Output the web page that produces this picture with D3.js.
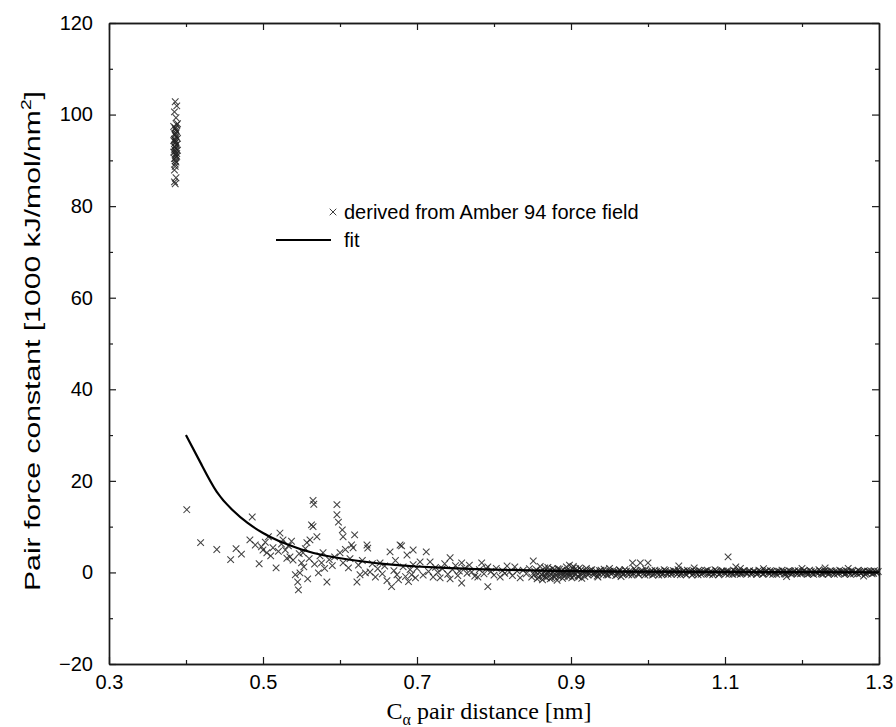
<!DOCTYPE html>
<html>
<head>
<meta charset="utf-8">
<script src="https://cdn.jsdelivr.net/npm/d3@7/dist/d3.min.js"></script>
<style>
html,body{margin:0;padding:0;background:#fff;}
svg{display:block;}
</style>
</head>
<body>
<svg id="chart" width="896" height="727"></svg>
<script>
// ---------- data ----------
const xTicks = [0.3, 0.5, 0.7, 0.9, 1.1, 1.3];
const xMinorTicks = [0.4, 0.6, 0.8, 1.0, 1.2];
const yTicks = [-20, 0, 20, 40, 60, 80, 100, 120];
const yMinorTicks = [-10, 10, 30, 50, 70, 90, 110];

const xLabelMain = "C";
const xLabelSub = "\u03b1";
const xLabelRest = " pair distance [nm]";
const yLabelMain = "Pair force constant [1000 kJ/mol/nm";
const yLabelSup = "2";
const legendScatter = "derived from Amber 94 force field";
const legendFit = "fit";

// fitted curve, values
const fitX = [0.40, 0.42, 0.44, 0.46, 0.48, 0.50, 0.52, 0.55, 0.58, 0.62, 0.66, 0.70, 0.75, 0.80, 0.90, 1.00, 1.10, 1.20, 1.30];
const fitY = [30.0, 23.6, 17.6, 13.7, 10.8, 8.6, 6.9, 5.0, 3.7, 2.6, 1.8, 1.3, 0.9, 0.6, 0.3, 0.18, 0.1, 0.06, 0.04];

// bonded neighbour cluster near 0.385 nm
const clusterPoints = [
[0.386,102.8],[0.388,101.9],[0.385,100.6],[0.387,99.3],[0.389,98.0],[0.384,97.4],[0.386,96.9],[0.388,96.3],
[0.385,95.8],[0.387,95.2],[0.389,94.8],[0.384,94.3],[0.386,93.9],[0.388,93.5],[0.385,93.0],[0.387,92.6],
[0.389,92.2],[0.384,91.8],[0.386,91.3],[0.388,90.9],[0.385,90.4],[0.387,89.6],[0.386,88.7],[0.385,87.9],
[0.387,86.2],[0.385,85.3],[0.386,84.9],[0.388,97.8],[0.386,95.5],[0.387,94.0],[0.385,92.4],[0.388,91.5],
[0.386,89.9],[0.387,96.6],[0.385,94.6],[0.386,92.9],[0.387,91.1],[0.386,97.1],[0.387,95.9],[0.386,94.4],
[0.387,93.3],[0.386,92.0],[0.387,90.6],[0.386,89.2]
];

// scattered points 0.40 – 0.85 nm
const midPoints = [
[0.401,13.7],[0.419,6.5],[0.440,5.0],[0.458,2.8],[0.465,5.2],[0.472,4.0],[0.483,7.1],[0.486,12.1],[0.490,6.0],
[0.495,1.9],[0.498,5.6],[0.500,4.9],[0.503,6.6],[0.505,4.3],[0.507,7.8],[0.510,3.6],[0.513,5.4],[0.517,1.0],
[0.520,4.6],[0.522,8.6],[0.524,6.2],[0.526,7.1],[0.529,4.9],[0.531,3.1],[0.533,5.8],[0.535,3.4],[0.537,6.8],
[0.539,2.7],[0.542,-0.5],[0.545,-2.1],[0.546,-3.8],[0.547,4.1],[0.548,-0.1],[0.550,2.1],[0.552,4.3],[0.553,1.2],
[0.555,5.2],[0.557,6.5],[0.558,-1.4],[0.560,3.0],[0.561,7.1],[0.563,10.4],[0.565,15.7],[0.566,14.9],[0.565,10.0],
[0.567,1.8],[0.570,7.8],[0.572,-0.1],[0.574,3.6],[0.576,2.1],[0.578,4.3],[0.580,0.9],[0.583,-2.1],[0.586,2.8],
[0.590,1.5],[0.593,3.4],[0.596,14.8],[0.596,12.6],[0.598,11.0],[0.600,4.3],[0.603,9.3],[0.604,7.8],[0.604,2.1],
[0.607,5.0],[0.611,1.0],[0.613,3.0],[0.615,6.0],[0.617,5.4],[0.619,8.2],[0.622,-2.1],[0.624,1.6],[0.626,-0.5],
[0.629,2.6],[0.633,-0.1],[0.635,6.0],[0.636,5.3],[0.639,0.1],[0.642,1.9],[0.646,-1.0],[0.649,0.8],[0.652,2.1],
[0.655,-0.3],[0.658,1.4],[0.661,-1.8],[0.665,4.5],[0.667,-3.1],[0.670,0.4],[0.672,2.6],[0.674,-0.5],[0.676,-1.6],
[0.678,6.0],[0.680,5.8],[0.682,1.2],[0.685,-0.9],[0.687,3.8],[0.689,-2.0],[0.691,0.6],[0.693,-0.5],[0.695,1.7],
[0.695,4.9],[0.698,-1.2],[0.700,0.9],[0.704,2.3],[0.708,-0.6],[0.712,4.5],[0.715,0.2],[0.717,2.3],[0.721,-1.0],
[0.724,1.1],[0.727,0.0],[0.730,-1.2],[0.733,0.8],[0.736,1.9],[0.740,-0.4],[0.743,3.2],[0.743,-1.4],[0.746,0.6],
[0.750,1.5],[0.753,-0.7],[0.755,0.3],[0.758,2.1],[0.758,-2.3],[0.762,0.9],[0.765,-0.2],[0.768,1.6],[0.771,0.1],
[0.775,-0.8],[0.779,-1.0],[0.781,0.6],[0.784,2.1],[0.787,-0.3],[0.790,0.8],[0.792,1.2],[0.792,-3.1],[0.796,0.2],
[0.800,-0.6],[0.803,0.9],[0.808,-1.0],[0.811,0.4],[0.814,-0.2],[0.817,1.4],[0.820,0.1],[0.824,-0.7],[0.827,1.2],
[0.830,0.3],[0.834,-1.2],[0.838,0.5],[0.842,-0.3],[0.846,0.8],[0.849,-1.0],[0.851,2.5]
];

// dense band 0.85 – 1.30 nm
const tailPoints = [
[0.852,-0.5],[0.855,0.6],[0.858,-1.1],[0.861,0.3],[0.864,-0.8],[0.866,1.0],[0.869,-0.2],[0.872,0.5],[0.875,-1.2],
[0.877,0.1],[0.880,-0.6],[0.883,0.8],[0.886,-0.3],[0.888,0.4],[0.891,-0.9],[0.894,1.2],[0.897,0.0],[0.899,-0.7],
[0.902,0.9],[0.905,-0.4],[0.907,0.3],[0.910,-1.0],[0.913,0.6],[0.916,-0.2],[0.919,0.2],[0.922,-0.6],[0.925,0.5],
[0.928,-0.3],[0.931,0.1],[0.934,-0.8],[0.937,0.4],[0.940,-0.1],[0.943,0.7],[0.946,-0.5],[0.949,0.2],[0.952,-0.3],
[0.955,0.5],[0.958,-0.7],[0.961,0.1],[0.964,0.4],[0.967,-0.4],[0.970,0.6],[0.973,-0.2],[0.976,0.3],[0.979,-0.6],
[0.982,0.8],[0.985,0.0],[0.988,-0.5],[0.991,0.4],[0.994,-0.2],[0.997,0.7],[1.000,-0.4],[1.003,0.2],[1.006,-0.6],
[1.009,0.5],[1.012,-0.1],[1.015,0.3],[1.018,-0.5],[1.021,0.6],[1.024,-0.2],[1.027,0.1],[1.030,-0.4],[1.033,0.4],
[1.036,-0.1],[1.039,0.6],[1.042,-0.5],[1.045,0.2],[1.048,-0.3],[1.051,0.5],[1.054,0.0],[1.057,-0.6],[1.060,0.3],
[1.063,-0.2],[1.066,0.5],[1.069,-0.4],[1.072,0.1],[1.075,0.4],[1.078,-0.3],[1.081,0.2],[1.084,-0.5],[1.087,0.6],
[1.090,0.0],[1.093,-0.3],[1.096,0.4],[1.099,-0.1],[1.102,0.3],[1.105,-0.4],[1.108,0.1],[1.111,0.5],[1.114,-0.2],
[1.117,0.2],[1.120,-0.4],[1.123,0.3],[1.126,0.0],[1.129,-0.3],[1.132,0.4],[1.135,-0.1],[1.138,0.2],[1.141,-0.4],
[1.144,0.5],[1.147,0.0],[1.150,-0.3],[1.153,0.3],[1.156,-0.1],[1.159,0.4],[1.162,-0.4],[1.165,0.1],[1.168,0.3],
[1.171,-0.2],[1.174,0.5],[1.177,-0.3],[1.180,0.1],[1.183,0.4],[1.186,-0.4],[1.189,0.2],[1.192,-0.1],[1.195,0.4],
[1.198,-0.3],[1.201,0.2],[1.204,0.0],[1.207,-0.4],[1.210,0.5],[1.213,-0.2],[1.216,0.3],[1.219,-0.1],[1.222,0.6],
[1.225,-0.3],[1.228,0.2],[1.231,0.0],[1.234,-0.4],[1.237,0.4],[1.240,-0.1],[1.243,0.3],[1.246,-0.3],[1.249,0.5],
[1.252,0.0],[1.255,-0.4],[1.258,0.3],[1.261,-0.1],[1.264,0.4],[1.267,-0.3],[1.270,0.1],[1.273,0.5],[1.276,-0.2],
[1.279,0.2],[1.282,-0.4],[1.285,0.3],[1.288,0.0],[1.291,-0.3],[1.294,0.4],[1.297,-0.1],
[0.856,-1.4],[0.860,1.3],[0.863,-1.6],[0.867,-0.9],[0.870,1.1],[0.873,-1.4],[0.876,0.9],[0.879,-1.0],[0.882,-1.7],
[0.885,0.7],[0.889,-1.3],[0.892,0.2],[0.896,-0.9],[0.898,1.6],[0.901,-1.2],[0.903,1.3],[0.906,0.8],[0.909,-0.8],
[0.911,1.0],[0.914,-1.3],[0.920,0.9],[0.935,-1.0],[0.950,0.9],[0.965,-0.9],[0.980,2.1],[0.990,2.1],[1.000,2.1],
[1.040,1.4],[1.104,3.4],[1.114,1.2],[1.060,1.0],[1.120,0.9],[1.150,0.8],[1.180,-0.9],[1.200,0.9],[1.230,1.0],
[1.260,0.9],[1.280,-0.8]
];

// second, interleaved layer of the dense band
const tailPointsB = [
[0.853,0.2],[0.857,-0.3],[0.862,-0.5],[0.865,0.1],[0.868,-1.2],[0.871,0.0],[0.874,-0.4],[0.878,0.6],[0.881,0.1],
[0.884,-0.9],[0.887,0.2],[0.890,-0.4],[0.893,-0.1],[0.895,0.5],[0.898,-0.3],[0.900,0.2],[0.904,-0.8],[0.908,0.5],
[0.912,-0.4],[0.915,0.3],[0.918,-0.9],[0.921,0.1],[0.924,-0.2],[0.927,0.6],[0.930,-0.5],[0.933,0.2],[0.936,-0.3],
[0.939,0.5],[0.942,-0.4],[0.945,0.1],[0.948,-0.6],[0.951,0.3],[0.954,-0.1],[0.957,0.2],[0.960,-0.5],[0.963,0.6],
[0.966,0.0],[0.969,-0.3],[0.972,0.3],[0.975,-0.5],[0.978,0.1],[0.981,-0.2],[0.984,0.5],[0.987,-0.3],[0.990,0.0],
[0.993,0.4],[0.996,-0.6],[0.999,0.1],[1.002,-0.2],[1.005,0.4],[1.008,-0.3],[1.011,0.2],[1.014,-0.6],[1.017,0.1],
[1.020,-0.3],[1.023,0.4],[1.026,-0.4],[1.029,0.2],[1.032,-0.1],[1.035,0.3],[1.038,-0.4],[1.041,0.1],[1.044,-0.2],
[1.047,0.4],[1.050,-0.5],[1.053,0.2],[1.056,0.3],[1.059,-0.3],[1.062,0.1],[1.065,-0.5],[1.068,0.3],[1.071,-0.2],
[1.074,0.0],[1.077,0.5],[1.080,-0.4],[1.083,0.1],[1.086,-0.2],[1.089,0.4],[1.092,-0.5],[1.095,0.1],[1.098,0.3],
[1.101,-0.3],[1.104,0.2],[1.107,-0.1],[1.110,-0.4],[1.113,0.3],[1.116,-0.3],[1.119,0.1],[1.122,-0.2],[1.125,0.4],
[1.128,-0.1],[1.131,0.1],[1.134,-0.4],[1.137,0.3],[1.140,0.0],[1.143,-0.2],[1.146,0.3],[1.149,-0.4],[1.152,0.1],
[1.155,0.4],[1.158,-0.3],[1.161,0.2],[1.164,-0.1],[1.167,-0.4],[1.170,0.3],[1.173,0.0],[1.176,0.2],[1.179,-0.4],
[1.182,-0.1],[1.185,0.3],[1.188,-0.2],[1.191,0.4],[1.194,-0.3],[1.197,0.1],[1.200,-0.2],[1.203,0.4],[1.206,0.1],
[1.209,-0.3],[1.212,0.2],[1.215,-0.4],[1.218,0.1],[1.221,-0.2],[1.224,0.3],[1.227,-0.4],[1.230,0.4],[1.233,0.1],
[1.236,-0.2],[1.239,0.3],[1.242,-0.4],[1.245,0.1],[1.248,-0.1],[1.251,0.3],[1.254,0.2],[1.257,-0.3],[1.260,0.1],
[1.263,-0.4],[1.266,0.3],[1.269,-0.1],[1.272,-0.3],[1.275,0.2],[1.278,0.0],[1.281,0.4],[1.284,-0.2],[1.287,0.2],
[1.290,0.3],[1.293,-0.2],[1.296,0.1],[1.299,0.2]
];

// ---------- layout ----------
const svg = d3.select("#chart");
const mLeft = 109, mRight = 879, mTop = 23, mBottom = 664;
const x = d3.scaleLinear().domain([0.3, 1.3]).range([mLeft, mRight]);
const y = d3.scaleLinear().domain([-20, 120]).range([mBottom, mTop]);

const sans = "'Liberation Sans', Arial, Helvetica, sans-serif";
const serif = "'Liberation Serif', 'Times New Roman', serif";
const ink = "#1a1a1a";

// axes (ticks inward on all four sides)
function styleAxis(g) {
  g.select(".domain").attr("stroke", ink).attr("stroke-width", 1.4);
  g.selectAll(".tick line").attr("stroke", ink).attr("stroke-width", 1.2);
  g.selectAll("text").attr("font-family", sans).attr("font-size", 20).attr("fill", "#000");
}

svg.append("g").attr("transform", `translate(0,${mBottom})`)
  .call(d3.axisBottom(x).tickValues(xTicks).tickSize(-7).tickPadding(11).tickSizeOuter(0).tickFormat(d3.format(".1f")))
  .call(styleAxis);
svg.append("g").attr("transform", `translate(0,${mBottom})`)
  .call(d3.axisBottom(x).tickValues(xMinorTicks).tickSize(-4).tickSizeOuter(0).tickFormat(""))
  .call(styleAxis);
svg.append("g").attr("transform", `translate(0,${mTop})`)
  .call(d3.axisTop(x).tickValues(xTicks).tickSize(-7).tickSizeOuter(0).tickFormat(""))
  .call(styleAxis);
svg.append("g").attr("transform", `translate(0,${mTop})`)
  .call(d3.axisTop(x).tickValues(xMinorTicks).tickSize(-4).tickSizeOuter(0).tickFormat(""))
  .call(styleAxis);

svg.append("g").attr("transform", `translate(${mLeft},0)`)
  .call(d3.axisLeft(y).tickValues(yTicks).tickSize(-7).tickPadding(16).tickSizeOuter(0).tickFormat(d3.format("d")))
  .call(styleAxis);
svg.append("g").attr("transform", `translate(${mLeft},0)`)
  .call(d3.axisLeft(y).tickValues(yMinorTicks).tickSize(-4).tickSizeOuter(0).tickFormat(""))
  .call(styleAxis);
svg.append("g").attr("transform", `translate(${mRight},0)`)
  .call(d3.axisRight(y).tickValues(yTicks).tickSize(-7).tickSizeOuter(0).tickFormat(""))
  .call(styleAxis);
svg.append("g").attr("transform", `translate(${mRight},0)`)
  .call(d3.axisRight(y).tickValues(yMinorTicks).tickSize(-4).tickSizeOuter(0).tickFormat(""))
  .call(styleAxis);

// scatter crosses
const allPoints = clusterPoints.concat(midPoints, tailPoints, tailPointsB);
const cs = 3.3;
const crossPath = `M${-cs},${-cs}L${cs},${cs}M${-cs},${cs}L${cs},${-cs}`;
svg.append("g")
  .selectAll("path")
  .data(allPoints)
  .join("path")
  .attr("transform", d => `translate(${x(d[0])},${y(d[1])})`)
  .attr("d", crossPath)
  .attr("fill", "none")
  .attr("stroke", "#222")
  .attr("stroke-opacity", 0.85)
  .attr("stroke-width", 1.05);

// fit curve
const fitData = fitX.map((v, i) => [v, fitY[i]]);
svg.append("path")
  .datum(fitData)
  .attr("d", d3.line().x(d => x(d[0])).y(d => y(d[1])).curve(d3.curveNatural))
  .attr("fill", "none")
  .attr("stroke", "#000")
  .attr("stroke-width", 2.2);

// legend
const lg = svg.append("g");
lg.append("path")
  .attr("transform", `translate(333,212)`)
  .attr("d", crossPath)
  .attr("fill", "none").attr("stroke", "#3c3c3c").attr("stroke-width", 1);
lg.append("text").attr("x", 344).attr("y", 212).attr("dy", "0.35em")
  .attr("font-family", sans).attr("font-size", 20).text(legendScatter);
lg.append("line").attr("x1", 276).attr("x2", 331).attr("y1", 240).attr("y2", 240)
  .attr("stroke", "#000").attr("stroke-width", 2.2);
lg.append("text").attr("x", 344).attr("y", 240).attr("dy", "0.35em")
  .attr("font-family", sans).attr("font-size", 20).text(legendFit);

// x axis title
const xt = svg.append("text")
  .attr("x", 489).attr("y", 719)
  .attr("text-anchor", "middle")
  .attr("font-family", serif).attr("font-size", 24).attr("fill", "#000");
xt.append("tspan").text(xLabelMain);
xt.append("tspan").attr("dy", 6).attr("font-size", 16).text(xLabelSub);
xt.append("tspan").attr("dy", -6).text(xLabelRest);

// y axis title (stretched along its baseline, as in the reference)
const yt = svg.append("text")
  .attr("transform", `translate(40,341) rotate(-90)`)
  .attr("text-anchor", "middle")
  .attr("font-family", sans).attr("font-size", 22).attr("fill", "#000")
  .attr("textLength", 500).attr("lengthAdjust", "spacingAndGlyphs");
yt.append("tspan").text(yLabelMain);
yt.append("tspan").attr("dy", -9).attr("font-size", 14).text(yLabelSup);
yt.append("tspan").attr("dy", 9).text("]");
</script>
</body>
</html>
